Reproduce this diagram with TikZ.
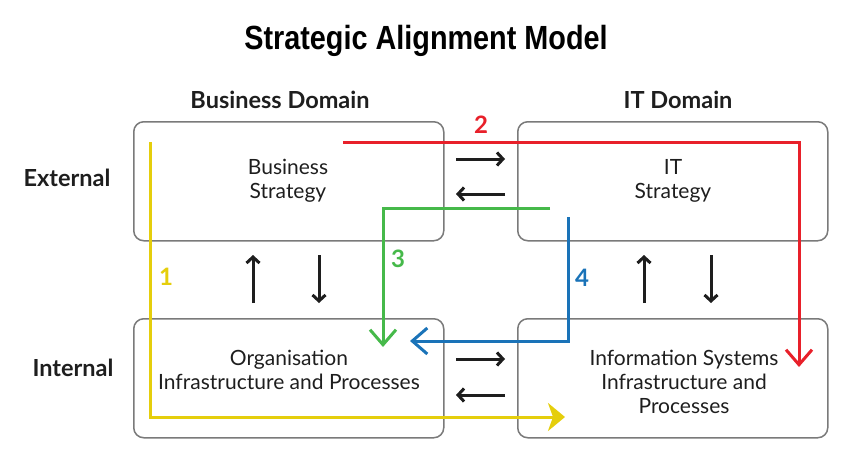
\documentclass[tikz,border=0pt]{standalone}
\usepackage{fontspec}
\setmainfont{Lato}
\newfontfamily\titlefont{Liberation Sans}
\usetikzlibrary{arrows.meta}
\definecolor{boxgray}{HTML}{7A7A7A}
\definecolor{ink}{HTML}{1E1E1E}
\definecolor{pyellow}{HTML}{E5CE0C}
\definecolor{pred}{HTML}{E8202A}
\definecolor{pgreen}{HTML}{46B94A}
\definecolor{pblue}{HTML}{1A73B8}
\tikzset{
  box/.style={draw=boxgray, line width=1.5pt, rounded corners=10pt,
    minimum width=310pt, minimum height=119pt, inner sep=0pt, anchor=north west},
  boxtext/.style={align=center, text=ink, font=\fontsize{21}{24}\selectfont},
  lbl/.style={text=ink, font=\bfseries\fontsize{23.5}{26}\selectfont},
  num/.style={font=\bfseries\fontsize{24}{26}\selectfont},
  blk/.style={draw=ink, line width=3pt, -{Straight Barb[length=6pt,width=13pt]}},
  path/.style={line width=3pt, -{Straight Barb[length=15pt,width=26pt]}},
}
\begin{document}
\begin{tikzpicture}[x=1pt,y=-1pt]
\useasboundingbox (0,0) rectangle (850,455);
% title and headers
\node[text=black] (title) at (426,41) {\scalebox{0.86}[1]{\titlefont\bfseries\fontsize{33.5}{36}\selectfont Strategic Alignment Model}};
\node[lbl] (bd) at (280,100) {Business Domain};
\node[lbl] (itd) at (678,100) {IT Domain};
\node[lbl] (ext) at (67,178) {External};
\node[lbl] (int) at (73,368) {Internal};
% boxes
\node[box] (bs) at (133,121) {};
\node[boxtext] (bsT) at (288,181) {Business\\Strategy};
\node[box] (its) at (517,121) {};
\node[boxtext] (itsT) at (673,181) {IT\\Strategy};
\node[box] (org) at (133,318) {};
\node[boxtext] (orgT) at (289,370) {Organisation\\Infrastructure and Processes};
\node[box] (iss) at (517,318) {};
\node[boxtext] (issT) at (684,382) {Information Systems\\Infrastructure and\\Processes};
% black arrows
\coordinate (h1a) at (456,159); \coordinate (h1b) at (505,159);
\coordinate (h2a) at (505,194); \coordinate (h2b) at (456,194);
\coordinate (h3a) at (456,359); \coordinate (h3b) at (505,359);
\coordinate (h4a) at (505,395); \coordinate (h4b) at (456,395);
\draw[blk] (h1a) -- (h1b);
\draw[blk] (h2a) -- (h2b);
\draw[blk] (h3a) -- (h3b);
\draw[blk] (h4a) -- (h4b);
\coordinate (v1a) at (253,303); \coordinate (v1b) at (253,255);
\coordinate (v2a) at (319,255); \coordinate (v2b) at (319,303);
\coordinate (v3a) at (644,303); \coordinate (v3b) at (644,255);
\coordinate (v4a) at (711,255); \coordinate (v4b) at (711,303);
\draw[blk] (v1a) -- (v1b);
\draw[blk] (v2a) -- (v2b);
\draw[blk] (v3a) -- (v3b);
\draw[blk] (v4a) -- (v4b);
% coloured paths
\coordinate (y1) at (150,142); \coordinate (y2) at (565,417);
\draw[draw=pyellow, line width=3pt, -{Stealth[length=17pt,width=28pt,inset=5pt]}] (y1) |- (y2);
\coordinate (r1) at (343,142); \coordinate (r2) at (799,367);
\draw[path, draw=pred] (r1) -| (r2);
\coordinate (g1) at (550,208); \coordinate (g2) at (383,347);
\draw[path, draw=pgreen] (g1) -| (g2);
\coordinate (b1) at (568,217); \coordinate (b2) at (410,341);
\draw[path, draw=pblue] (b1) |- (b2);
% numbers
\node[num, text=pyellow] (n1) at (166,277) {1};
\node[num, text=pred] (n2) at (481,125) {2};
\node[num, text=pgreen] (n3) at (398,259) {3};
\node[num, text=pblue] (n4) at (582,278) {4};
\end{tikzpicture}
\end{document}
